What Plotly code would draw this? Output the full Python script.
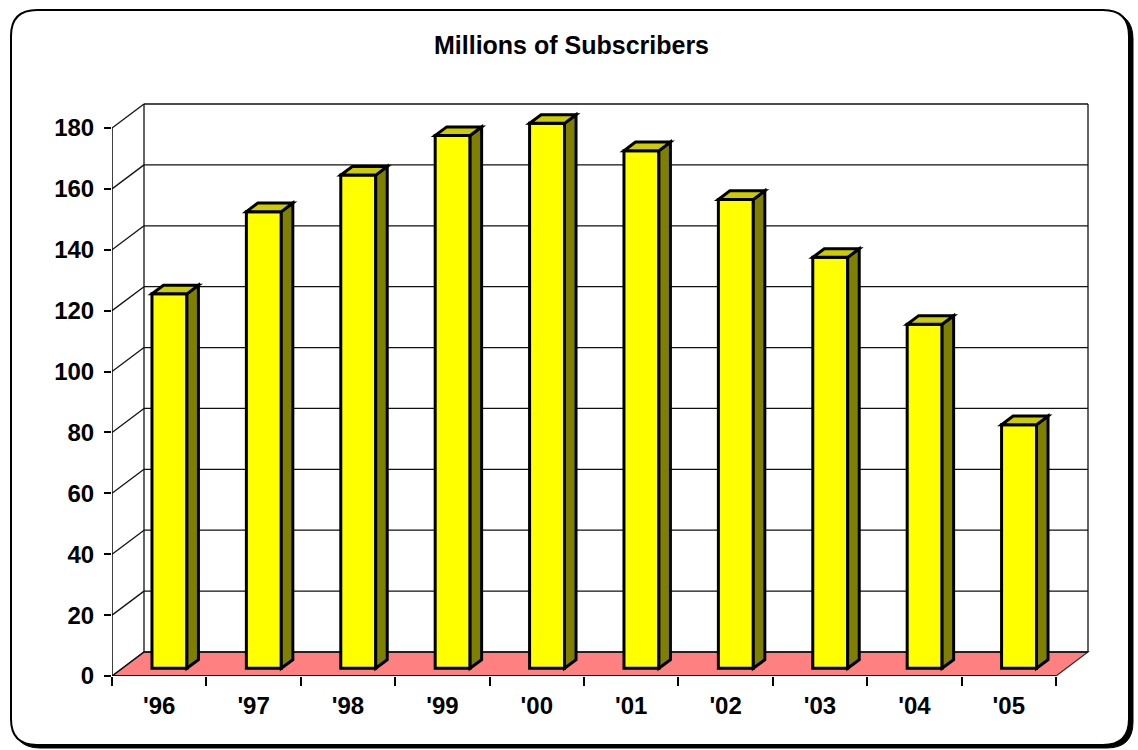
import plotly.graph_objects as go

# Subscriber counts by year (millions)
years = ["'96", "'97", "'98", "'99", "'00", "'01", "'02", "'03", "'04", "'05"]
subscribers = [123, 150, 162, 175, 179, 170, 154, 135, 113, 80]
y_ticks = [0, 20, 40, 60, 80, 100, 120, 140, 160, 180]
title_text = "Millions of Subscribers"

# ---- page geometry (pixels) ----
W_PX, H_PX = 1138, 750
M_L, M_R, M_T, M_B = 112, 48, 100, 74
PX_PER_CAT = 94.4
PX_PER_UNIT = 548 / 180
plot_w = W_PX - M_L - M_R
plot_h = H_PX - M_T - M_B
x_range = [-0.5, -0.5 + plot_w / PX_PER_CAT]
y_range = [0, plot_h / PX_PER_UNIT]

# 3-D depth offset of the back wall, in data units
DX = 32 / PX_PER_CAT
DY = 24 / PX_PER_UNIT
F0, F1 = 0.32, 0.68        # front / back depth of each column
BAR_W = 0.37
Y_MAX = y_ticks[-1]
n = len(years)

FONT = "Arial, Liberation Sans, sans-serif"


def px2paper(px, py):
    return (px - M_L) / plot_w, (H_PX - M_B - py) / plot_h


def rounded_rect(x0, y0, x1, y1, r):
    pts = []
    def P(cmd, *xy):
        out = []
        for i in range(0, len(xy), 2):
            a, b = px2paper(xy[i], xy[i + 1])
            out.append(f"{a:.5f},{b:.5f}")
        pts.append(cmd + " " + " ".join(out))
    P("M", x0 + r, y0)
    P("L", x1 - r, y0)
    P("Q", x1, y0, x1, y0 + r)
    P("L", x1, y1 - r)
    P("Q", x1, y1, x1 - r, y1)
    P("L", x0 + r, y1)
    P("Q", x0, y1, x0, y1 - r)
    P("L", x0, y0 + r)
    P("Q", x0, y0, x0 + r, y0)
    return " ".join(pts) + " Z"


def poly(points):
    return "M " + " L ".join(f"{x:.5f},{y:.5f}" for x, y in points) + " Z"


shapes = []

# outer frame with drop shadow
shapes.append(dict(type="path", xref="paper", yref="paper", layer="below",
                   path=rounded_rect(14, 13, 1133, 748, 26),
                   fillcolor="black", line=dict(color="black", width=1)))
shapes.append(dict(type="path", xref="paper", yref="paper", layer="below",
                   path=rounded_rect(11, 10, 1129, 745, 26),
                   fillcolor="white", line=dict(color="black", width=2)))

wall = dict(color="#111111", width=1.3)
x_front_l, x_front_r = -0.5, n - 0.5

# floor
shapes.append(dict(type="path", xref="x", yref="y", layer="below",
                   path=poly([(x_front_l, 0), (x_front_r, 0),
                              (x_front_r + DX, DY), (x_front_l + DX, DY)]),
                   fillcolor="#FF8080", line=dict(color="#333333", width=1.3)))

# back wall gridlines and left wall diagonals
for v in y_ticks:
    shapes.append(dict(type="line", xref="x", yref="y", layer="below",
                       x0=x_front_l + DX, x1=x_front_r + DX, y0=v + DY, y1=v + DY,
                       line=wall))
    shapes.append(dict(type="line", xref="x", yref="y", layer="below",
                       x0=x_front_l, x1=x_front_l + DX, y0=v, y1=v + DY,
                       line=wall))
# wall verticals
for xv, y0 in [(x_front_l + DX, DY), (x_front_r + DX, DY)]:
    shapes.append(dict(type="line", xref="x", yref="y", layer="below",
                       x0=xv, x1=xv, y0=y0, y1=Y_MAX + DY, line=wall))
# front value axis line and category axis line
shapes.append(dict(type="line", xref="x", yref="y", layer="below",
                   x0=x_front_l, x1=x_front_l, y0=0, y1=Y_MAX,
                   line=dict(color="black", width=1.5)))
shapes.append(dict(type="line", xref="x", yref="y", layer="below",
                   x0=x_front_l, x1=x_front_r, y0=0, y1=0,
                   line=dict(color="black", width=1.5)))

# column side and top faces
base = F0 * DY
ddx, ddy = (F1 - F0) * DX, (F1 - F0) * DY
edge = dict(color="black", width=3)
for i, v in enumerate(subscribers):
    xl = i + F0 * DX - BAR_W / 2
    xr = xl + BAR_W
    top = base + v
    shapes.append(dict(type="path", xref="x", yref="y", layer="above",
                       path=poly([(xr, base), (xr + ddx, base + ddy),
                                  (xr + ddx, top + ddy), (xr, top)]),
                       fillcolor="#808000", line=edge))
    shapes.append(dict(type="path", xref="x", yref="y", layer="above",
                       path=poly([(xl, top), (xr, top),
                                  (xr + ddx, top + ddy), (xl + ddx, top + ddy)]),
                       fillcolor="#CCCC00", line=edge))

fig = go.Figure()
fig.add_trace(go.Bar(
    x=years, y=subscribers, base=base,
    offset=F0 * DX - BAR_W / 2, width=BAR_W,
    marker=dict(color="#FFFF00", line=dict(color="black", width=3)),
    hoverinfo="x+y",
))

fig.update_layout(
    width=W_PX, height=H_PX,
    margin=dict(l=M_L, r=M_R, t=M_T, b=M_B, pad=0),
    paper_bgcolor="white", plot_bgcolor="rgba(0,0,0,0)",
    showlegend=False,
    shapes=shapes,
    font=dict(family=FONT, color="black"),
    title=dict(text=title_text, x=571.5 / W_PX, xref="container",
               y=1 - 45 / H_PX, yref="container", xanchor="center",
               yanchor="middle",
               font=dict(size=25, family=FONT, weight="bold")),
    xaxis=dict(type="category", range=x_range, tickson="boundaries",
               ticks="outside", ticklen=9, tickcolor="black", tickwidth=1.5,
               showgrid=False, zeroline=False, showline=False,
               tickfont=dict(size=24, family=FONT, weight="bold"),
               ticklabelstandoff=13),
    yaxis=dict(range=y_range, tickvals=y_ticks,
               ticktext=[str(v) for v in y_ticks],
               ticks="outside", ticklen=7,
               tickcolor="black", tickwidth=1.5, showgrid=False,
               zeroline=False, showline=False,
               tickfont=dict(size=24, family=FONT, weight="bold"),
               ticklabelstandoff=5),
)

fig.write_html("out.html")
